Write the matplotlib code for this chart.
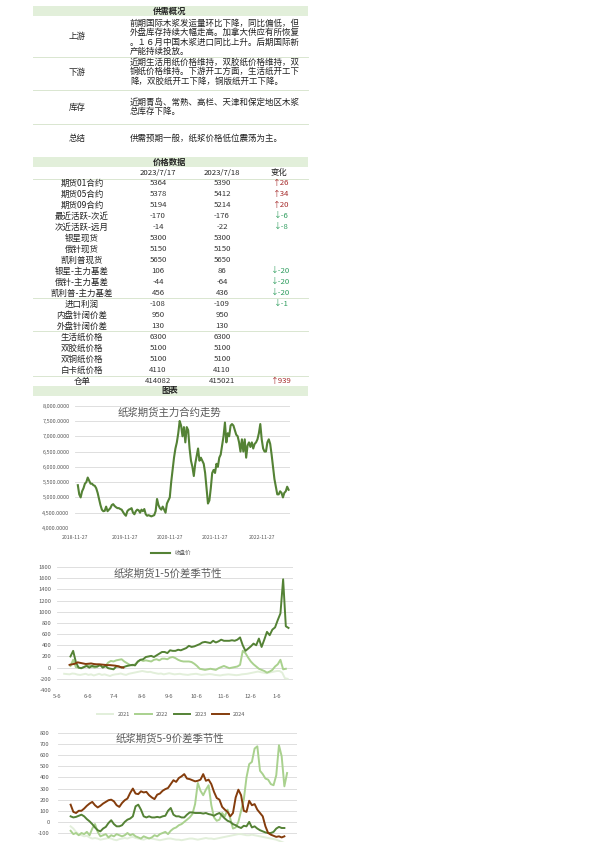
import numpy as np
import matplotlib
matplotlib.use("Agg")
import matplotlib.pyplot as plt
from matplotlib.patches import Rectangle
from matplotlib.lines import Line2D

plt.rcParams['font.family'] = ['Noto Sans CJK SC', 'DejaVu Sans']
plt.rcParams['axes.unicode_minus'] = False

W, H = 595, 842

# ---------------- data ----------------
supply_labels = ['上游', '下游', '库存', '总结']
supply_text = [
    ['前期国际木浆发运量环比下降，同比偏低，但',
     '外盘库存持续大幅走高。加拿大供应有所恢复',
     '。１６月中国木浆进口同比上升。后期国际新',
     '产能持续投放。'],
    ['近期生活用纸价格维持，双胶纸价格维持，双',
     '铜纸价格维持。下游开工方面，生活纸开工下',
     '降，双胶纸开工下降，铜版纸开工下降。'],
    ['近期青岛、常熟、高栏、天津和保定地区木浆',
     '总库存下降。'],
    ['供需预期一般，纸浆价格低位震荡为主。'],
]

price_dates = ['2023/7/17', '2023/7/18']
price_names = ['期货01合约', '期货05合约', '期货09合约', '最近活跃-次近', '次近活跃-远月',
               '银星现货', '俄针现货', '凯利普现货', '银星-主力基差', '俄针-主力基差',
               '凯利普-主力基差', '进口利润', '内盘针阔价差', '外盘针阔价差', '生活纸价格',
               '双胶纸价格', '双铜纸价格', '白卡纸价格', '仓单']
price_d1 = [5364, 5378, 5194, -170, -14, 5300, 5150, 5650, 106, -44, 456, -108,
            950, 130, 6300, 5100, 5100, 4110, 414082]
price_d2 = [5390, 5412, 5214, -176, -22, 5300, 5150, 5650, 86, -64, 436, -109,
            950, 130, 6300, 5100, 5100, 4110, 415021]
price_chg = [26, 34, 20, -6, -8, None, None, None, -20, -20, -20, -1,
             None, None, None, None, None, None, 939]

# main contract close price
close = [5400, 5100, 5000, 5200, 5300, 5450, 5500, 5650, 5550, 5450,
         5450, 5400, 5380, 5300, 5150, 4950, 4750, 4600, 4550, 4560,
         4700, 4550, 4600, 4650, 4750, 4780, 4720, 4680, 4650, 4650,
         4620, 4600, 4520, 4450, 4400, 4550, 4600, 4620, 4650, 4500,
         4450, 4550, 4600, 4580, 4500, 4600, 4550, 4620, 4450, 4400,
         4420, 4400, 4380, 4400, 4420, 4550, 4950, 4750, 4650, 4600,
         4700, 4600, 4500, 4800, 4900, 5000, 5500, 5900, 6300, 6600,
         6800, 7100, 7500, 7350, 7000, 7300, 6800, 7300, 7200, 6600,
         6200, 6000, 5700, 6100, 6350, 6600, 6200, 6300, 6200, 6100,
         5800, 5300, 4800, 4900, 5300, 5800, 5900, 5800, 6100, 6000,
         6300, 6400, 6700, 7000, 7450, 6800, 7100, 7000, 7350, 7400,
         7350, 7200, 7050, 7000, 6800, 6500, 6900, 6500, 6900, 6300,
         6700, 6800, 6650, 6800, 6600, 6750, 6800, 6900, 7100, 7400,
         6900, 6600, 6500, 6500, 6800, 6900, 6750, 6400, 6000, 5600,
         5350, 5100, 5100, 5200, 5150, 5000, 5150, 5200, 5350, 5250]
close_tick_labels = ['2018-11-27', '2019-11-27', '2020-11-27', '2021-11-27', '2022-11-27']
close_tick_idx = [-2, 33, 65, 97, 130]

season_labels = ['5-6', '6-6', '7-4', '8-6', '9-6', '10-6', '11-6', '12-6', '1-6']
season_tick_day = [0, 34, 63, 95, 125, 155, 185, 215, 245]
years = ['2021', '2022', '2023', '2024']

# 1-5 spread, sampled every 3 days, first day per series
s15_start = {'2021': 8, '2022': 15, '2023': 15, '2024': 14}
s15 = {
    '2021': [-110, -115, -120, -105, -110, -125, -130, -120, -110, -130,
             -120, -140, -125, -110, -130, -120, -135, -150, -130, -120,
             -115, -105, -120, -130, -110, -100, -90, -80, -70, -60,
             -70, -80, -75, -90, -100, -110, -105, -120, -110, -100,
             -110, -120, -115, -110, -120, -125, -130, -120, -115, -110,
             -120, -130, -125, -120, -115, -120, -130, -135, -140, -130,
             -125, -120, -125, -130, -135, -130, -120, -115, -110, -100,
             -90, -80, -70, -80, -90, -100, -90, -80, -70, -60,
             -60, -90, -190, -200],
    '2022': [30, 140, 10, 0, -10, 10, 40, 40, 20, 0,
             20, 40, 10, 30, 90, 120, 110, 130, 140, 150,
             110, 80, 50, 40, 60, 100, 140, 120, 130, 120,
             110, 140, 150, 130, 160, 160, 150, 180, 190, 170,
             140, 120, 110, 110, 110, 100, 70, 30, -20, -30,
             -40, -30, -20, -30, -40, -10, 10, 30, 10, -10,
             0, 10, 20, 50, 300, 260, 180, 110, 60, 20,
             -20, -40, -60, -90, -70, -40, 20, 60, 140, -30, -20],
    '2023': [200, 300, 100, 0, -10, 10, 30, 0, 30, 20,
             20, 50, 0, 30, -10, -20, -30, 20, 20, 0,
             15, 30, 40, 50, 40, 110, 140, 150, 190, 200,
             210, 190, 220, 250, 280, 280, 260, 310, 300, 300,
             320, 310, 330, 350, 390, 370, 380, 400, 420, 450,
             460, 450, 440, 480, 450, 470, 500, 480, 480, 480,
             490, 480, 500, 540, 400, 300, 340, 380, 430, 400,
             520, 370, 500, 640, 580, 680, 720, 850, 970, 1580,
             740, 710],
    '2024': [50, 60, 70, 95, 85, 75, 65, 70, 75, 65,
             60, 60, 55, 50, 45, 45, 40, 35, 25, 10, 0],
}

# 5-9 spread
s59_start = {'2021': 16, '2022': 16, '2023': 16, '2024': 16}
s59 = {
    '2021': [-40, -60, -90, -110, -120, -130, -125, -140, -150, -145,
             -150, -160, -155, -150, -145, -150, -160, -165, -155, -150,
             -145, -150, -140, -135, -145, -150, -155, -160, -150, -145,
             -150, -155, -160, -165, -160, -155, -150, -150, -155, -160,
             -160, -165, -160, -155, -150, -150, -155, -160, -155, -150,
             -145, -150, -150, -155, -150, -145, -140, -135, -130, -125,
             -120, -115, -110, -110, -115, -120, -120, -115, -120, -125,
             -130, -135, -140, -145, -150, -155, -160, -170, -180, -190, -200],
    '2022': [-80, -110, -100, -120, -100, -110, -90, -120, -60, -20,
             -90, -130, -120, -110, -140, -120, -130, -110, -120, -130,
             -120, -100, -120, -110, -130, -140, -150, -130, -140, -150,
             -140, -120, -130, -110, -100, -90, -110, -80, -60, -50,
             -30, -20, 0, 20, 40, 70, 160, 350, 280, 240,
             290, 330, 150, 40, 10, 20, 80, 50, 110, 30,
             -60, -50, 0, 100, 200, 400, 520, 540, 660, 680,
             460, 430, 390, 380, 340, 330, 420, 690, 590, 320, 440],
    '2023': [50, 40, 45, 55, 65, 50, 25, 5, -20, -50,
             -75, -85, -60, -45, -10, 15, -20, -40, -40, -30,
             0, 20, 30, 50, 140, 155, 110, 50, 40, 50,
             40, 40, 45, 40, 50, 55, 100, 125, 65, 50,
             50, 40, 40, 65, 85, 85, 80, 80, 80, 75,
             80, 70, 65, 55, 70, 80, 55, 30, 10, 0,
             -20, -30, -45, -55, -35, -40, 0, -50, -40, -60,
             -75, -85, -95, -100, -100, -90, -60, -45, -55, -55],
    '2024': [155, 90, 80, 100, 100, 120, 145, 165, 180, 150,
             130, 145, 165, 180, 195, 200, 185, 150, 135, 170,
             195, 210, 260, 300, 255, 250, 275, 265, 270, 240,
             220, 205, 245, 255, 280, 295, 305, 340, 375, 360,
             395, 410, 430, 390, 385, 375, 365, 370, 380, 430,
             370, 380, 340, 270, 215, 200, 135, 110, 90, 50,
             80, 220, 290, 240, 100, 90, 190, 150, 160, 110,
             80, 50, -40, -100, -115, -125, -135, -130, -140, -130],
}
year_colors = {'2021': '#e2efda', '2022': '#a9d18e', '2023': '#548235', '2024': '#843c0c'}

# ---------------- figure ----------------
fig = plt.figure(figsize=(W / 100, H / 100), dpi=100)


def fx(x):
    return x / W


def fy(y):
    return 1 - y / H


def txt(x, y, s, **kw):
    kw.setdefault('fontsize', 6.1)
    kw.setdefault('color', '#222222')
    kw.setdefault('va', 'center')
    fig.text(fx(x), fy(y), s, **kw)


def bar(y0, y1, title):
    fig.patches.append(Rectangle((fx(33), fy(y1)), fx(308) - fx(33), fy(y0) - fy(y1),
                                 transform=fig.transFigure, facecolor='#e2efda',
                                 edgecolor='none', zorder=0))
    txt(170, (y0 + y1) / 2, title, ha='center', fontweight='bold', fontsize=6)


def hline(y, color='#d9e6d0'):
    fig.add_artist(Line2D([fx(33), fx(308)], [fy(y), fy(y)], color=color, lw=0.7))


# supply / demand block
bar(6, 16, '供需概况')
label_y = [37, 72, 107, 138]
first_line = [23, 62, 102, 138]
for lab, ly, fl, lines in zip(supply_labels, label_y, first_line, supply_text):
    txt(77, ly, lab, ha='center')
    for k, line in enumerate(lines):
        txt(130, fl + k * 9.5, line, ha='left')
for y in [57, 90, 124]:
    hline(y)

# price block
bar(157, 167, '价格数据')
txt(158, 173, price_dates[0], ha='center', fontsize=5.6)
txt(222, 173, price_dates[1], ha='center', fontsize=5.6)
txt(279, 173, '变化', ha='center', fontsize=6)
hline(178.5)
for i, name in enumerate(price_names):
    y = 183 + i * 11
    txt(82, y, name, ha='center', fontsize=6.1)
    txt(158, y, str(price_d1[i]), ha='center', fontsize=5.6, color='#333333')
    txt(222, y, str(price_d2[i]), ha='center', fontsize=5.6, color='#333333')
    c = price_chg[i]
    if c is not None:
        if c > 0:
            txt(281, y, '↑' + str(c), ha='center', fontsize=5.6, color='#a52a2a')
        else:
            txt(281, y, '↓' + str(c), ha='center', fontsize=5.6, color='#2e9d5e')
for y in [298, 331, 375.5]:
    hline(y)

bar(386, 396, '图表')

grid_c = '#d9d9d9'
tick_c = '#595959'


def style(ax):
    for s in ax.spines.values():
        s.set_visible(False)
    ax.grid(axis='y', color=grid_c, lw=0.6)
    ax.set_axisbelow(True)
    ax.tick_params(length=0, labelsize=4.2, colors=tick_c)


# chart 1
ax1 = fig.add_axes([fx(75), fy(528), fx(290) - fx(75), fy(405.7) - fy(528)])
ax1.plot(np.arange(len(close)), close, color='#548235', lw=1.5, label='收盘价')
ax1.set_ylim(4000, 8000)
ax1.set_yticks(np.arange(4000, 8001, 500))
ax1.set_yticklabels(['{:,.4f}'.format(v) for v in np.arange(4000, 8001, 500)])
ax1.set_xlim(-2, 150)
ax1.set_xticks(close_tick_idx)
ax1.set_xticklabels(close_tick_labels)
style(ax1)
ax1.tick_params(axis='y', labelsize=4, pad=4)
ax1.tick_params(axis='x', labelsize=3.7, pad=5)
ax1.text(0.44, 0.945, '纸浆期货主力合约走势', transform=ax1.transAxes, ha='center',
         va='center', fontsize=7.5, color=tick_c)
ax1.legend(loc='center', bbox_to_anchor=(fx(171), fy(553)), bbox_transform=fig.transFigure,
           frameon=False, fontsize=4, handlelength=3.5, labelcolor=tick_c)

# chart 2
ax2 = fig.add_axes([fx(57), fy(690), fx(293) - fx(57), fy(567) - fy(690)])
for yr in years:
    vals = s15[yr]
    days = np.arange(len(vals)) * 3 + s15_start[yr]
    ax2.plot(days, vals, color=year_colors[yr], lw=1.4, label=yr)
ax2.set_ylim(-400, 1800)
ax2.set_yticks(np.arange(-400, 1801, 200))
ax2.set_xlim(0, 263)
ax2.set_xticks(season_tick_day)
ax2.set_xticklabels(season_labels)
style(ax2)
ax2.tick_params(axis='y', pad=4)
ax2.tick_params(axis='x', pad=3)
ax2.text(0.47, 0.95, '纸浆期货1-5价差季节性', transform=ax2.transAxes, ha='center',
         va='center', fontsize=7.5, color=tick_c)
ax2.legend(loc='center', bbox_to_anchor=(fx(171), fy(714)), bbox_transform=fig.transFigure,
           frameon=False, fontsize=4, ncol=4, handlelength=3, columnspacing=0.9,
           labelcolor=tick_c)

# chart 3 (cut by page bottom)
ax3 = fig.add_axes([fx(58), 0, fx(297) - fx(58), fy(733)])
for yr in years:
    vals = s59[yr]
    days = np.arange(len(vals)) * 3 + s59_start[yr]
    ax3.plot(days, vals, color=year_colors[yr], lw=1.4)
ax3.set_ylim(-181, 800)
ax3.set_yticks(np.arange(-100, 801, 100))
ax3.set_xlim(2, 267)
ax3.set_xticks([])
style(ax3)
ax3.tick_params(axis='y', pad=6)
ax3.text(0.47, 0.95, '纸浆期货5-9价差季节性', transform=ax3.transAxes, ha='center',
         va='center', fontsize=7.5, color=tick_c)

fig.savefig('out.png', dpi=100)
